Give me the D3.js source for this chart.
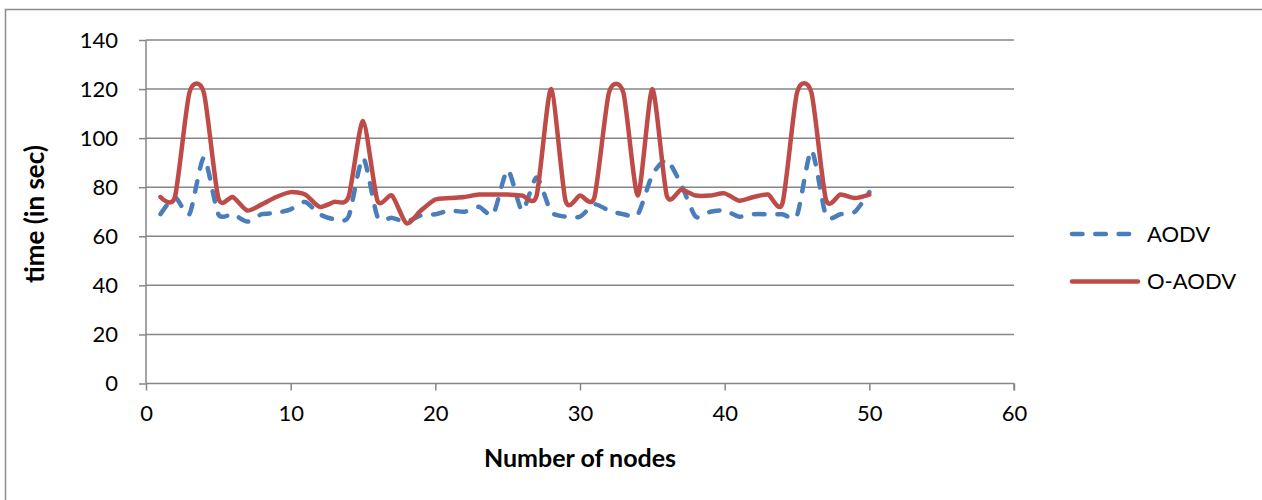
<!DOCTYPE html>
<html>
<head>
<meta charset="utf-8">
<script src="https://cdn.jsdelivr.net/npm/d3@7"></script>
<style>
  body { margin: 0; background: #fff; }
  text { font-family: Lato, "Liberation Sans", sans-serif; fill: #000; }
</style>
</head>
<body>
<script>
// chart values
var nodes = [1,2,3,4,5,6,7,8,9,10,11,12,13,14,15,16,17,18,19,20,
             21,22,23,24,25,26,27,28,29,30,31,32,33,34,35,36,37,38,39,40,
             41,42,43,44,45,46,47,48,49,50];
var aodv = [69,76,69,92,69,69,66,69,69.5,71,
            74,69,67,68,92,68,67.5,66,68.5,69,
            70.5,70,72,69,87,70.5,84,70,68,68,
            73,70.5,69,69,85,91,81,68,70,70.5,
            68,69,69,69,68.5,95,68.5,69,70,78];
var oaodv = [76,76,118.5,118.5,75.6,76,70.5,73,76,78,
             77,72,74,76,107,74.5,76.6,65.3,70.5,75,
             75.6,76,77,77,77,76.6,76.6,120,74.5,76.6,
             76,118.5,118.5,76.6,120,76.6,79,76.6,76.6,77.5,
             74.5,76,77,73.5,118.5,118.5,75,77,75.6,77];
var xTicks = [0,10,20,30,40,50,60];
var yTicks = [0,20,40,60,80,100,120,140];
var seriesNames = ["AODV", "O-AODV"];

var W = 1262, H = 500;
var svg = d3.select("body").append("svg")
    .attr("width", W)
    .attr("height", H);

// outer chart border (right/bottom run off the picture)
svg.append("rect")
    .attr("x", 5.5).attr("y", 9.5)
    .attr("width", 1300).attr("height", 600)
    .attr("fill", "none")
    .attr("stroke", "#8c8c8c")
    .attr("stroke-width", 1.5);

var x = d3.scaleLinear().domain([0, 60]).range([146, 1014]);
var y = d3.scaleLinear().domain([0, 140]).range([383.5, 40]);

// gridlines
svg.append("g")
    .selectAll("line")
    .data(yTicks.filter(function(t) { return t > 0; }))
    .enter().append("line")
    .attr("x1", x(0)).attr("x2", x(60))
    .attr("y1", function(d) { return y(d); })
    .attr("y2", function(d) { return y(d); })
    .attr("stroke", "#868686")
    .attr("stroke-width", 1.5);

var yAxis = svg.append("g")
    .attr("transform", "translate(" + x(0) + ",0)")
    .call(d3.axisLeft(y).tickValues(yTicks).tickSize(7).tickPadding(21));

var xAxis = svg.append("g")
    .attr("transform", "translate(0," + y(0) + ")")
    .call(d3.axisBottom(x).tickValues(xTicks).tickSize(7).tickPadding(15));

[yAxis, xAxis].forEach(function(a) {
    a.selectAll("path, line").attr("stroke", "#868686").attr("stroke-width", 1.5);
    a.select(".domain").attr("d", a === yAxis
        ? "M0," + y(140) + "V" + y(0)
        : "M" + x(0) + ",0H" + x(60) + "M" + x(60) + ",0V7");
    a.selectAll("text").style("font-size", "22px").attr("fill", "#000")
        .style("font-family", "Lato, 'Liberation Sans', sans-serif");
});

// axis titles
svg.append("text")
    .attr("transform", "translate(44,214) rotate(-90)")
    .attr("text-anchor", "middle")
    .style("font-size", "26px")
    .style("font-weight", "bold")
    .text("time (in sec)");

svg.append("text")
    .attr("x", 580).attr("y", 467)
    .attr("text-anchor", "middle")
    .style("font-size", "25px")
    .style("font-weight", "bold")
    .text("Number of nodes");

// lines (Excel-like smoothing)
var line = d3.line()
    .x(function(d) { return x(d[0]); })
    .y(function(d) { return y(d[1]); })
    .curve(d3.curveCardinal.tension(0.3));

var colors = ["#4a7ebb", "#be4b48"];
var dashes = ["10.5,12.8", null];

[aodv, oaodv].forEach(function(vals, i) {
    svg.append("path")
        .datum(nodes.map(function(n, j) { return [n, vals[j]]; }))
        .attr("d", line)
        .attr("fill", "none")
        .attr("stroke", colors[i])
        .attr("stroke-width", 4.5)
        .attr("stroke-linecap", "round")
        .attr("stroke-linejoin", "round")
        .attr("stroke-dasharray", dashes[i]);
});

// legend
var legend = svg.append("g");
seriesNames.forEach(function(name, i) {
    var ly = 234 + i * 47.5;
    legend.append("line")
        .attr("x1", 1072).attr("x2", i === 0 ? 1130 : 1138)
        .attr("y1", ly).attr("y2", ly)
        .attr("stroke", colors[i])
        .attr("stroke-width", 4.5)
        .attr("stroke-linecap", "round")
        .attr("stroke-dasharray", dashes[i]);
    legend.append("text")
        .attr("x", 1147).attr("y", ly)
        .attr("dy", "0.35em")
        .style("font-size", "22px")
        .text(name);
});
</script>
</body>
</html>
